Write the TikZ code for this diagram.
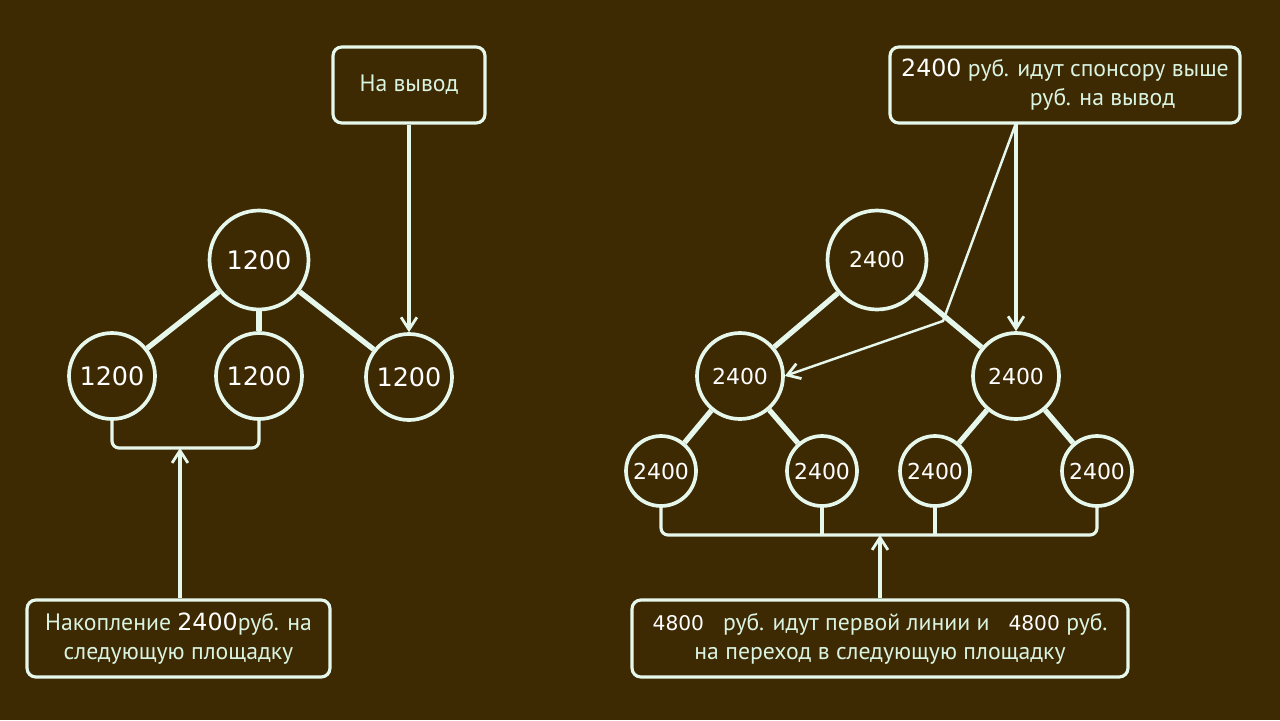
\documentclass[tikz,border=0pt]{standalone}
\usepackage{fontspec}
\setmainfont{PT Sans}
\newfontfamily\numfont{DejaVu Sans}
\usetikzlibrary{arrows.meta,positioning}
\definecolor{bg}{HTML}{3D2902}
\definecolor{ln}{HTML}{E6F7EC}
\definecolor{tx}{HTML}{DAF4E2}
\newcommand{\amt}[1]{{\numfont\color{white}#1}}
\tikzset{
  box/.style={draw=ln,line width=1.8pt,rounded corners=5pt,text=tx,align=center,inner sep=2pt,font=\fontsize{13.5}{16.5}\selectfont},
  crc/.style={circle,draw=ln,line width=2.1pt,inner sep=0pt,text=white,font=\numfont\fontsize{12.5}{12.5}\selectfont},
  bigc/.style={crc,minimum size=1.98cm,font=\numfont\fontsize{14.5}{14.5}\selectfont},
  midc/.style={crc,minimum size=1.72cm},
  smc/.style={crc,minimum size=1.4cm},
  edge/.style={draw=ln,line width=3pt},
  brk/.style={draw=ln,line width=1.8pt,rounded corners=4pt},
  ar/.style={-{Straight Barb[length=7pt,width=9pt,line width=1.6pt]},draw=ln,line width=1.9pt},
  thinar/.style={ar,line width=1.4pt},
}
\begin{document}
\begin{tikzpicture}[x=0.02cm,y=-0.02cm]
\fill[bg] (0,0) rectangle (1280,720);
\useasboundingbox (0,0) rectangle (1280,720);
% left tree
\node[box,minimum width=3.04cm,minimum height=1.52cm] (nav) at (409,85) {На вывод};
\node[bigc] (t1) at (259,260) {1200};
\node[midc,font=\numfont\fontsize{14.5}{14.5}\selectfont] (l1) at (112,376) {1200};
\node[midc,font=\numfont\fontsize{14.5}{14.5}\selectfont] (l2) at (259,376) {1200};
\node[midc,font=\numfont\fontsize{14.5}{14.5}\selectfont] (l3) at (409,377) {1200};
\node[box,minimum width=6.06cm,minimum height=1.54cm] (nak) at (178.5,638.5)
  {Накопление \amt{2400}руб. на\\следующую площадку};
\coordinate (lb) at (180,448);
\draw[edge] (t1) -- (l1);
\draw[edge] (t1) -- (l2);
\draw[edge] (t1) -- (l3);
\draw[brk] (l1.south) |- (lb) -| (l2.south);
\draw[ar] (nav) -- (l3);
\draw[ar] (nak.north -| lb) -- (lb);
% right tree
\node[box,minimum width=7cm,minimum height=1.52cm] (spn) at (1065,85)
  {\amt{2400} руб. идут спонсору выше\\\hspace*{1.5cm}руб. на вывод};
\node[bigc,font=\numfont\fontsize{12.5}{12.5}\selectfont] (t2) at (877,260) {2400};
\node[midc] (m1) at (740,376) {2400};
\node[midc] (m2) at (1016,376) {2400};
\node[smc] (b1) at (661,471) {2400};
\node[smc] (b2) at (822,471) {2400};
\node[smc] (b3) at (935,471) {2400};
\node[smc] (b4) at (1097,471) {2400};
\node[box,minimum width=9.92cm,minimum height=1.54cm] (per) at (880,638.5)
  {\amt{\fontsize{11.5}{11.5}\selectfont 4800}\ \ \ руб. идут первой линии и\ \ \ \amt{\fontsize{11.5}{11.5}\selectfont 4800} руб.\\на переход в следующую площадку};
\coordinate (rb) at (880,535);
\coordinate (sp) at (1016,123);
\coordinate (kink) at (943,321);
\draw[edge] (t2) -- (m1);
\draw[edge] (t2) -- (m2);
\draw[edge] (m1) -- (b1);
\draw[edge] (m1) -- (b2);
\draw[edge] (m2) -- (b3);
\draw[edge] (m2) -- (b4);
\draw[brk] (b1.south) |- (rb) -| (b4.south);
\draw[brk] (b2.south) -- (b2.south |- rb);
\draw[brk] (b3.south) -- (b3.south |- rb);
\draw[ar] (sp) -- (m2);
\draw[thinar] (sp) -- (kink) -- (m1.east);
\draw[ar] (per.north -| rb) -- (rb);
\end{tikzpicture}
\end{document}
